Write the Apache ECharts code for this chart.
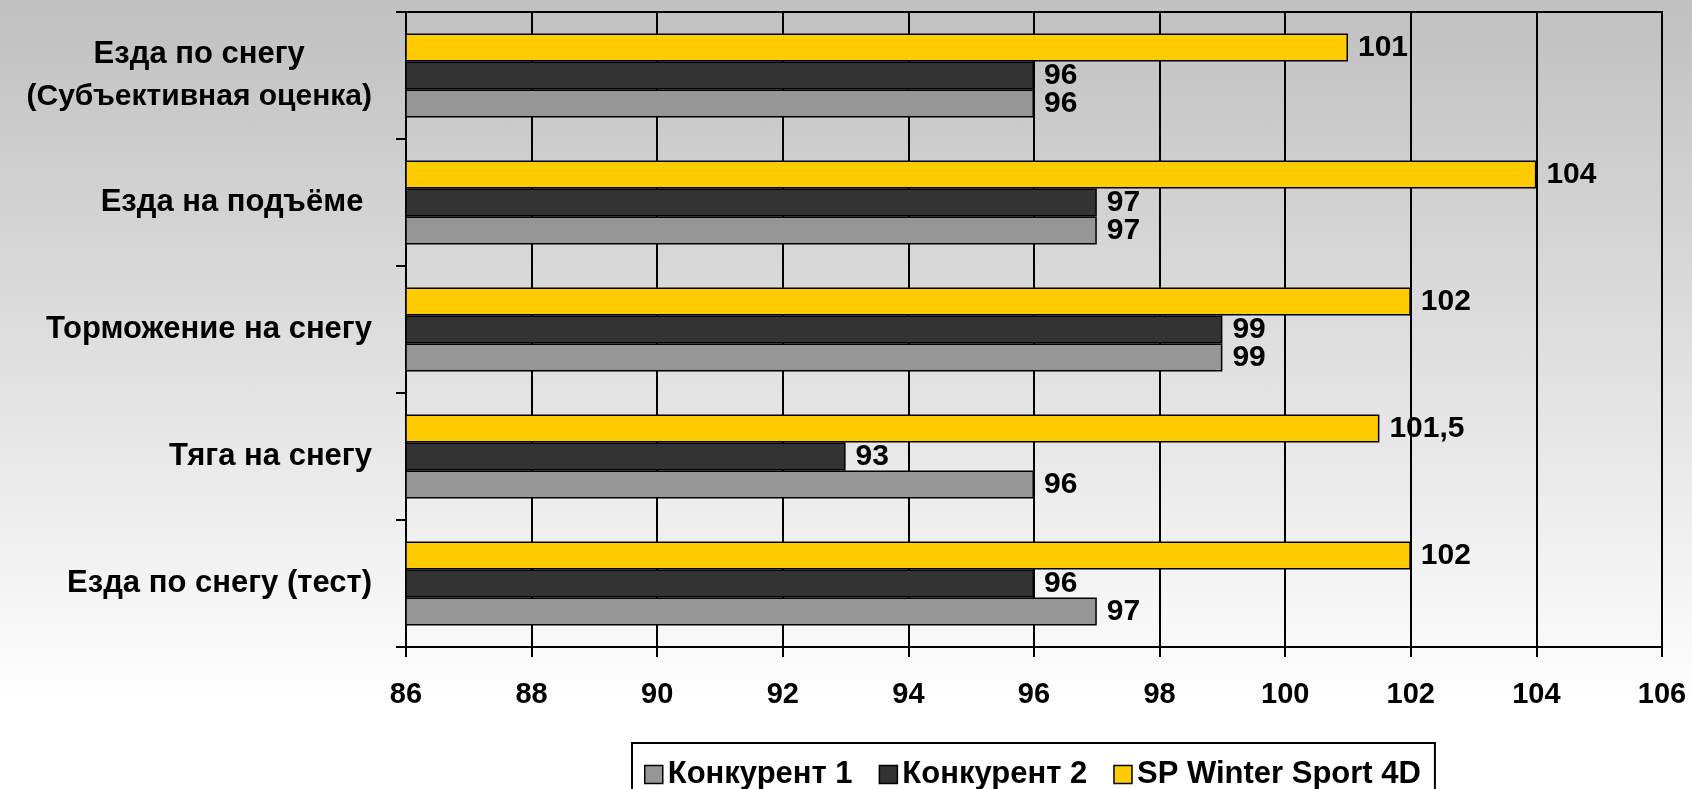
<!DOCTYPE html>
<html>
<head>
<meta charset="utf-8">
<script src="https://cdn.jsdelivr.net/npm/echarts@6/dist/echarts.min.js"></script>
<style>
  html, body { margin: 0; padding: 0; }
  #chart {
    width: 1692px;
    height: 789px;
    background: linear-gradient(to bottom, #c0c0c0 0%, #ffffff 90%, #ffffff 100%);
  }
</style>
</head>
<body>
<div id="chart"></div>
<script>
// categories from bottom to top
const categories = [
  "Езда по снегу (тест)",
  "Тяга на снегу",
  "Торможение на снегу",
  "Езда на подъёме ",
  "Езда по снегу\n(Субъективная оценка)"
];
const competitor1 = [97, 96, 99, 97, 96];
const competitor2 = [96, 93, 99, 97, 96];
const spWinter = [102, 101.5, 102, 104, 101];
const seriesNames = ["Конкурент 1", "Конкурент 2", "SP Winter Sport 4D"];
const seriesColors = ["#969696", "#333333", "#ffcc00"];

const font = "'Liberation Sans', Arial, sans-serif";

const chart = echarts.init(document.getElementById("chart"));

function makeSeries(name, data, color) {
  return {
    name: name,
    type: "bar",
    data: data,
    barGap: "0%",
    barCategoryGap: "34%",
    itemStyle: { color: color, borderColor: "#000", borderWidth: 1.5 },
    label: {
      show: true,
      position: "right",
      distance: 10,
      color: "#000",
      fontFamily: font,
      fontWeight: "bold",
      fontSize: 30,
      formatter: p => String(p.value).replace(".", ",")
    }
  };
}

chart.setOption({
  animation: false,
  textStyle: { fontFamily: font },
  grid: { left: 406, right: 30, top: 12, bottom: 142, show: true, borderColor: "#000", borderWidth: 2 },
  legend: {
    data: seriesNames,
    top: 743,
    left: 632,
    itemWidth: 18,
    itemHeight: 18,
    itemGap: 26,
    padding: [16, 14, 20, 12],
    borderColor: "#000",
    borderWidth: 2,
    backgroundColor: "#fff",
    icon: "rect",
    itemStyle: { borderColor: "#000", borderWidth: 1.5 },
    textStyle: { fontFamily: font, fontWeight: "bold", fontSize: 31, color: "#000" }
  },
  xAxis: {
    type: "value",
    min: 86,
    max: 106,
    interval: 2,
    axisLine: { show: true, lineStyle: { color: "#000", width: 2 } },
    axisTick: { show: true, length: 10, lineStyle: { color: "#000", width: 2 } },
    splitLine: { show: true, lineStyle: { color: "#000", width: 2 } },
    axisLabel: { color: "#000", fontFamily: font, fontWeight: "bold", fontSize: 29, margin: 33 }
  },
  yAxis: {
    type: "category",
    data: categories,
    axisLine: { show: true, lineStyle: { color: "#000", width: 2 } },
    axisTick: { show: true, length: 10, lineStyle: { color: "#000", width: 2 } },
    axisLabel: {
      margin: 34,
      color: "#000",
      fontFamily: font,
      fontWeight: "bold",
      fontSize: 31,
      lineHeight: 42,
      formatter: v => v.split("\n").map((s, i) => (i > 0 ? "{n|" : "{c|") + s + "}").join("\n"),
      rich: {
        c: { align: "center", fontFamily: font, fontWeight: "bold", fontSize: 31, lineHeight: 42, color: "#000" },
        n: { align: "center", fontFamily: font, fontWeight: "bold", fontSize: 30, lineHeight: 42, color: "#000" }
      }
    }
  },
  // top-to-bottom inside each band: SP, Конкурент 2, Конкурент 1
  series: [
    makeSeries(seriesNames[2], spWinter, seriesColors[2]),
    makeSeries(seriesNames[1], competitor2, seriesColors[1]),
    makeSeries(seriesNames[0], competitor1, seriesColors[0])
  ]
});
</script>
</body>
</html>
